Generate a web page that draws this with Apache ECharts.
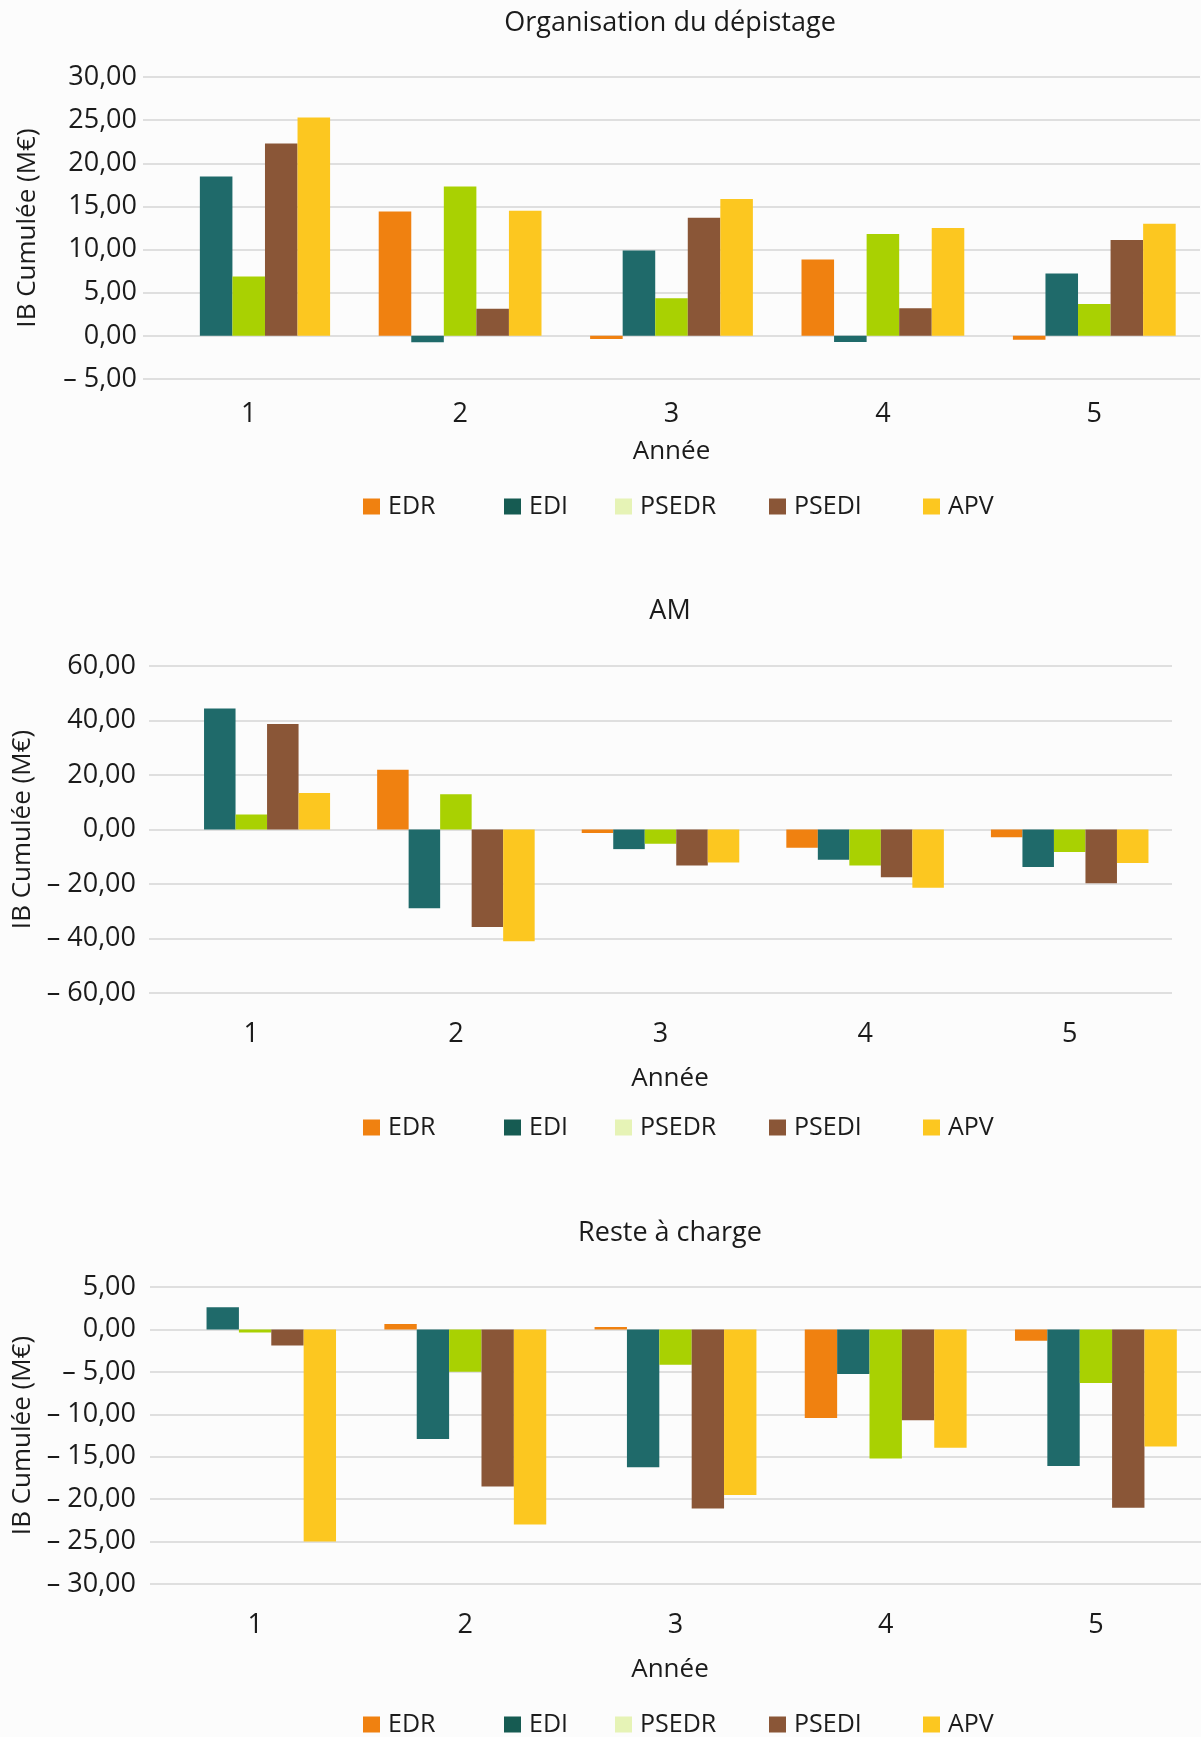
<!DOCTYPE html>
<html><head><meta charset="utf-8">
<script src="https://cdn.jsdelivr.net/npm/echarts@6/dist/echarts.min.js"></script>
<style>html,body{margin:0;padding:0;background:#fcfcfc}#c{width:1201px;height:1737px}</style>
</head><body><div id="c"></div>
<script>
const categories = ['1','2','3','4','5'];
const seriesNames = ['EDR','EDI','PSEDR','PSEDI','APV'];
const titles = ['Organisation du dépistage','AM','Reste à charge'];

// Organisation du dépistage
const depEDR   = [0, 14.4, -0.35, 8.85, -0.46];
const depEDI   = [18.48, -0.73, 9.9, -0.7, 7.23];
const depPSEDR = [6.88, 17.3, 4.37, 11.8, 3.7];
const depPSEDI = [22.3, 3.13, 13.7, 3.2, 11.1];
const depAPV   = [25.3, 14.5, 15.85, 12.5, 13.0];
// AM
const amEDR   = [0, 21.9, -1.3, -6.7, -2.8];
const amEDI   = [44.4, -28.9, -7.2, -11.1, -13.8];
const amPSEDR = [5.5, 12.9, -5.2, -13.2, -8.3];
const amPSEDI = [38.7, -35.8, -13.2, -17.5, -19.7];
const amAPV   = [13.4, -41.0, -12.1, -21.4, -12.3];
// Reste à charge
const racEDR   = [0, 0.63, 0.3, -10.45, -1.33];
const racEDI   = [2.6, -12.9, -16.25, -5.25, -16.1];
const racPSEDR = [-0.35, -5.0, -4.15, -15.2, -6.3];
const racPSEDI = [-1.9, -18.5, -21.1, -10.7, -21.0];
const racAPV   = [-25.0, -23.0, -19.5, -13.95, -13.8];

// y axis ranges [min, max, interval]
const depRange = [-5, 30, 5];
const amRange  = [-60, 60, 20];
const racRange = [-30, 5, 5];

const panels = [
  {data:[depEDR,depEDI,depPSEDR,depPSEDI,depAPV], range:depRange},
  {data:[amEDR,amEDI,amPSEDR,amPSEDI,amAPV], range:amRange},
  {data:[racEDR,racEDI,racPSEDR,racPSEDI,racAPV], range:racRange}
];

const barColors = ['#f08110','#1f6a6a','#a9d102','#8a5637','#fcc720'];
const legendColors = ['#f08110','#165b52','#e6f3b6','#8a5637','#fcc720'];
const FONT = 'Open Sans';
const TXT = '#1b1b1b';

const layout = [
  {grid:{left:143,top:77,width:1057,height:302}, title:5, labMargin:6, catMargin:22, nameGap:60, namePad:[0,0,0,0], yNameGap:102, legendTop:489},
  {grid:{left:149,top:666,width:1023,height:327}, title:593, labMargin:13, catMargin:28, nameGap:73, namePad:[0,0,0,19], yNameGap:108, legendTop:1110},
  {grid:{left:150,top:1287,width:1051,height:297}, title:1215, labMargin:14, catMargin:28, nameGap:73, namePad:[0,11,0,0], yNameGap:109, legendTop:1707}
];
const legendLefts = [358, 499, 610, 764, 918];

function fmt(v){
  const s = Math.abs(v).toFixed(2).replace('.', ',');
  return v < 0 ? '– ' + s : s;
}

const option = {
  backgroundColor:'#fcfcfc',
  animation:false,
  textStyle:{fontFamily:FONT, color:TXT},
  title:[], grid:[], xAxis:[], yAxis:[], series:[], legend:[]
};

panels.forEach((p, i) => {
  const L = layout[i];
  option.title.push({text:titles[i], left:665, top:L.title, textAlign:'center',
    textStyle:{fontFamily:FONT, fontWeight:'normal', fontSize:27, color:TXT}});
  option.grid.push(Object.assign({outerBoundsMode:'none', containLabel:false}, L.grid));
  option.xAxis.push({type:'category', gridIndex:i, data:categories,
    name:'Année', nameLocation:'middle', nameGap:L.nameGap,
    nameTextStyle:{fontFamily:FONT, fontSize:26, color:TXT, padding:L.namePad},
    axisLine:{show:false, onZero:false}, axisTick:{show:false},
    axisLabel:{fontFamily:FONT, fontSize:27, color:TXT, margin:L.catMargin}});
  option.yAxis.push({type:'value', gridIndex:i, min:p.range[0], max:p.range[1], interval:p.range[2],
    name:'IB Cumulée (M€)', nameLocation:'middle', nameGap:L.yNameGap,
    nameTextStyle:{fontFamily:FONT, fontSize:26, color:TXT},
    axisLine:{show:false}, axisTick:{show:false},
    splitLine:{lineStyle:{color:'#d6d6d6', width:1.5}},
    axisLabel:{fontFamily:FONT, fontSize:27, color:TXT, margin:L.labMargin, formatter:fmt}});
  seriesNames.forEach((n, k) => {
    option.series.push({type:'bar', name:n, xAxisIndex:i, yAxisIndex:i, data:p.data[k],
      barGap:'0%', barCategoryGap:'23%', itemStyle:{color:barColors[k]}});
  });
  seriesNames.forEach((n, k) => {
    option.legend.push({left:legendLefts[k], top:L.legendTop, itemWidth:17, itemHeight:16,
      selectedMode:false,
      data:[{name:n, icon:'rect', itemStyle:{color:legendColors[k]}}],
      textStyle:{fontFamily:FONT, fontSize:25, color:TXT, padding:[0,0,0,3]}});
  });
});

const chart = echarts.init(document.getElementById('c'), null, {renderer:'canvas'});
chart.setOption(option);
</script>
</body></html>
